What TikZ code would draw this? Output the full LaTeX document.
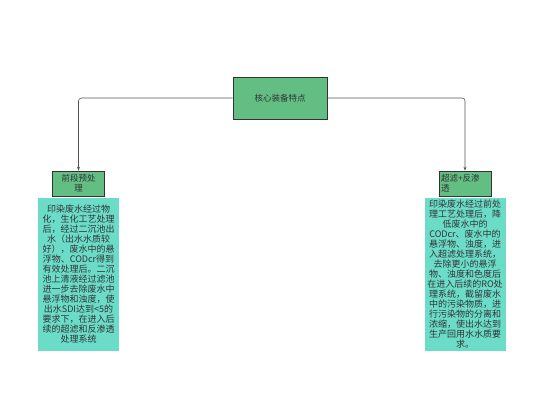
\documentclass[tikz,border=0pt]{standalone}
\usepackage{fontspec}
\usepackage{tikz}
\usetikzlibrary{arrows.meta,positioning}
\newfontfamily\cjk{Noto Sans CJK SC}
\definecolor{leaf}{HTML}{62BE82}
\definecolor{aqua}{HTML}{6ADCC8}
\definecolor{ink}{HTML}{333333}
\definecolor{wire}{HTML}{555555}

\begin{document}
\begin{tikzpicture}[x=1pt, y=-1pt, font=\cjk]
  \tikzset{
    corebox/.style ={draw=ink, fill=leaf, line width=0.6pt, minimum width=94pt, minimum height=42pt, inner sep=0pt, font=\cjk\fontsize{8.5}{10}\selectfont, text=ink},
    stagebox/.style={draw=ink, fill=leaf, line width=0.6pt, text width=48pt, minimum height=25pt, inner sep=2pt, font=\cjk\fontsize{8.5}{10}\selectfont, text=ink},
    notebox/.style ={fill=aqua, minimum width=81pt, minimum height=153pt, text width=77pt, inner sep=2pt, align=center, font=\cjk\fontsize{9}{10}\selectfont, text=ink},
    link/.style    ={-{Stealth[length=4pt,width=3pt]}, wire, line width=0.6pt, rounded corners=3pt},
  }
  \useasboundingbox (0,0) rectangle (554,419);
  \node[corebox] (core) at (280,98) {核心装备特点};
  \node[stagebox, align=center] (pre) at (78.5,183.5) {前段预处\\理};
  \node[stagebox, align=left] (ufro) at (465,183.5) {超滤+反渗\\透};
  \node[notebox, below=1.5pt of pre] (prenote) {
    印染废水经过物\\化，生化工艺处理\\后，经过二沉池出\\水（出水水质较\\好），废水中的悬\\浮物、CODcr得到\\有效处理后。二沉\\池上清液经过滤池\\进一步去除废水中\\悬浮物和浊度，使\\出水SDI达到<5的\\要求下，在进入后\\续的超滤和反渗透\\处理系统
  };
  \node[notebox, below=1.5pt of ufro] (ufronote) {
    印染废水经过前处\\理工艺处理后，降\\低废水中的\\CODcr、废水中的\\悬浮物、浊度，进\\入超滤处理系统，\\去除更小的悬浮\\物、浊度和色度后\\在进入后续的RO处\\理系统，截留废水\\中的污染物质，进\\行污染物的分离和\\浓缩，使出水达到\\生产回用水水质要\\求。
  };
  \draw[link] (core.west) -| (pre.north);
  \draw[link] (core.east) -| (ufro.north);
\end{tikzpicture}
\end{document}
